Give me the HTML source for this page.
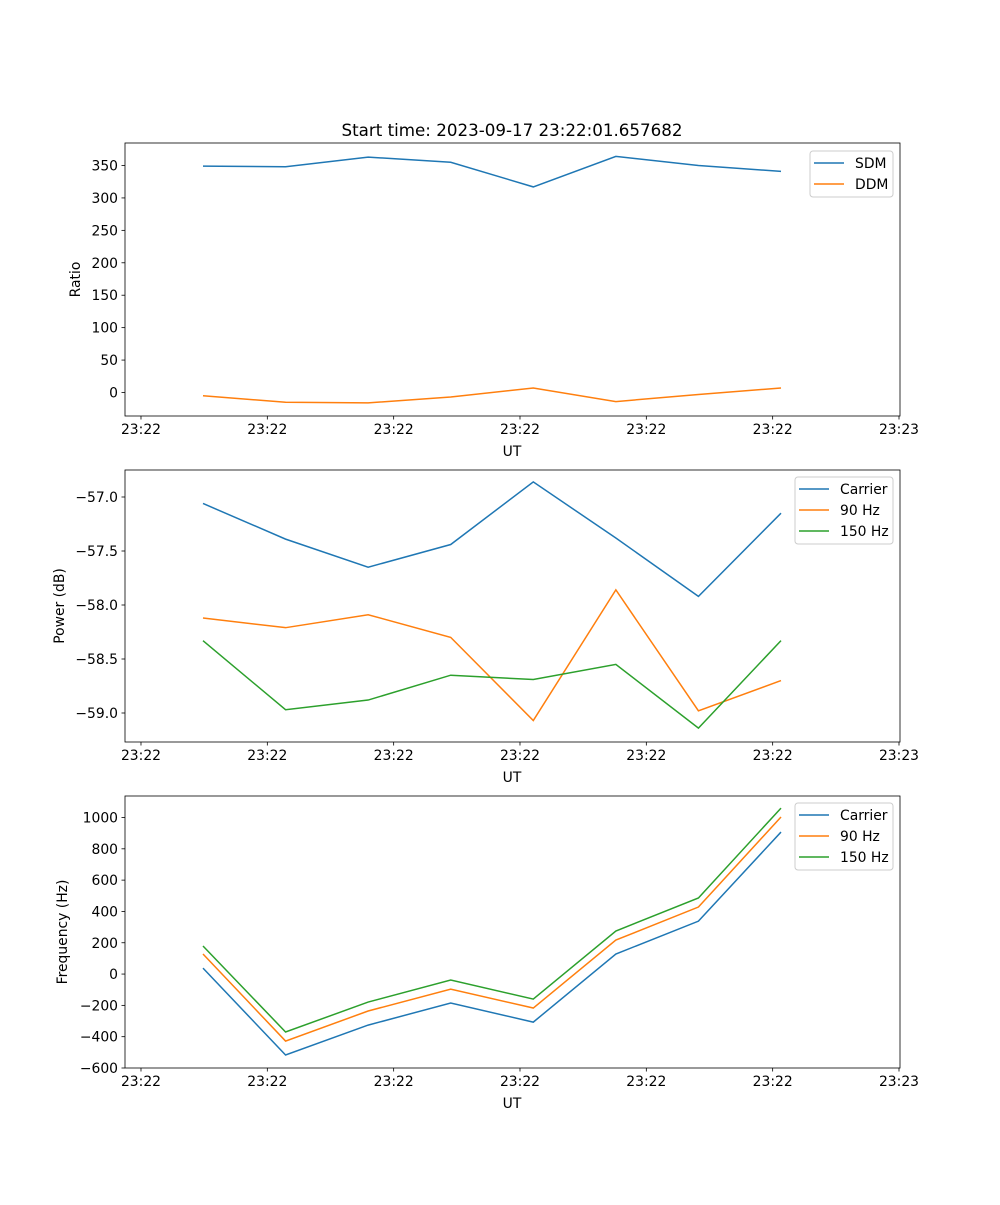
<!DOCTYPE html>
<html><head><meta charset="utf-8"><style>
body{margin:0;background:#fff}
svg text{font-family:"DejaVu Sans","Liberation Sans",sans-serif;font-size:13.9px;fill:#000}
</style></head><body>
<svg id="fig" width="1000" height="1200" viewBox="0 0 1000 1200" xmlns="http://www.w3.org/2000/svg">
<rect width="1000" height="1200" fill="#fff"/>
<text x="512" y="136" text-anchor="middle" font-size="16.7" style="font-size:16.7px">Start time: 2023-09-17 23:22:01.657682</text>
</svg>
<script>
const xTickLabels = ["23:22","23:22","23:22","23:22","23:22","23:22","23:23"];
const xTickPos = [-0.751,0.779,2.309,3.839,5.369,6.899,8.429];
const sdm = [349,348,363,355,317,364,350,341];
const ddm = [-5,-15,-16,-7,7,-14,-3,7];
const carrierPow = [-57.06,-57.39,-57.65,-57.44,-56.86,-57.38,-57.92,-57.15];
const hz90Pow = [-58.12,-58.21,-58.09,-58.30,-59.07,-57.86,-58.98,-58.70];
const hz150Pow = [-58.33,-58.97,-58.88,-58.65,-58.69,-58.55,-59.14,-58.33];
const carrierFreq = [38,-517,-326,-185,-307,128,338,907];
const hz90Freq = [128,-428,-236,-96,-217,217,428,1003];
const hz150Freq = [179,-370,-179,-38,-160,275,486,1060];
const ratioTicks = [0,50,100,150,200,250,300,350];
const powTicks = [-59.0,-58.5,-58.0,-57.5,-57.0];
const freqTicks = [-600,-400,-200,0,200,400,600,800,1000];

const NS="http://www.w3.org/2000/svg";
const svg=document.getElementById('fig');
function mk(tag,attrs,parent){const e=document.createElementNS(NS,tag);for(const k in attrs)e.setAttribute(k,attrs[k]);(parent||svg).appendChild(e);return e;}
const L=125,R=900;
const xs=i=>203+(i)*(781-203)/7;
const colors=["#1f77b4","#ff7f0e","#2ca02c"];

function panel(name,top,bot,y0v,y0p,y1v,y1p,ticks,fmt,ylabel,series,names,legend){
  const g=mk('g',{});
  
  
  const ys=v=>y0p+(v-y0v)*(y1p-y0p)/(y1v-y0v);
  series.forEach((s,k)=>{
    const p=mk('polyline',{points:s.map((v,i)=>xs(i)+','+ys(v)).join(' '),fill:'none',stroke:colors[k],'stroke-width':1.5},g);
    
    
  });
  const fr=mk('rect',{x:L,y:top,width:R-L,height:bot-top,fill:'none',stroke:'#000','stroke-width':0.8},g);
  
  
  xTickPos.forEach((t,i)=>{
    const x=xs(t);
    mk('line',{x1:x,x2:x,y1:bot,y2:bot+3.5,stroke:'#000','stroke-width':0.8},g);
    const tx=mk('text',{x:x,y:bot+18,'text-anchor':'middle'},g);tx.textContent=xTickLabels[i];
    
    
  });
  const xl=mk('text',{x:512,y:bot+40,'text-anchor':'middle'},g);xl.textContent='UT';
  
  
  ticks.forEach(t=>{
    const y=ys(t);
    mk('line',{x1:L-3.5,x2:L,y1:y,y2:y,stroke:'#000','stroke-width':0.8},g);
    const tx=mk('text',{x:L-7,y:y+5,'text-anchor':'end'},g);tx.textContent=fmt(t);
    
    
  });
  const yl=mk('text',{x:0,y:0,'text-anchor':'middle',transform:`translate(${ylabel[1]},${(top+bot)/2}) rotate(-90)`},g);yl.textContent=ylabel[0];
  
  
  const lg=mk('g',{},g);
  
  
  mk('rect',{x:legend[0],y:legend[1],width:R-7-legend[0],height:names.length*21+4,rx:3,fill:'#fff','fill-opacity':0.8,stroke:'#ccc'},lg);
  names.forEach((n,k)=>{
    const y=legend[1]+12+k*21;
    mk('line',{x1:legend[0]+4,x2:legend[0]+34,y1:y,y2:y,stroke:colors[k],'stroke-width':1.5},lg);
    const tx=mk('text',{x:legend[0]+45,y:y+5},lg);tx.textContent=n;
    
    
  });
}
const m=v=>String(v).replace('-','\u2212');
panel('ratio-panel',143,416,0,392.5,350,165.5,ratioTicks,m,['Ratio',80],[sdm,ddm],['SDM','DDM'],[810,151]);
panel('power-panel',470,742,-57,497,-59,713,powTicks,v=>m(v.toFixed(1)),['Power (dB)',64],[carrierPow,hz90Pow,hz150Pow],['Carrier','90 Hz','150 Hz'],[795,477]);
panel('frequency-panel',796,1068,1000,817.5,-600,1068,freqTicks,m,['Frequency (Hz)',67],[carrierFreq,hz90Freq,hz150Freq],['Carrier','90 Hz','150 Hz'],[795,803]);
</script>
</body></html>
